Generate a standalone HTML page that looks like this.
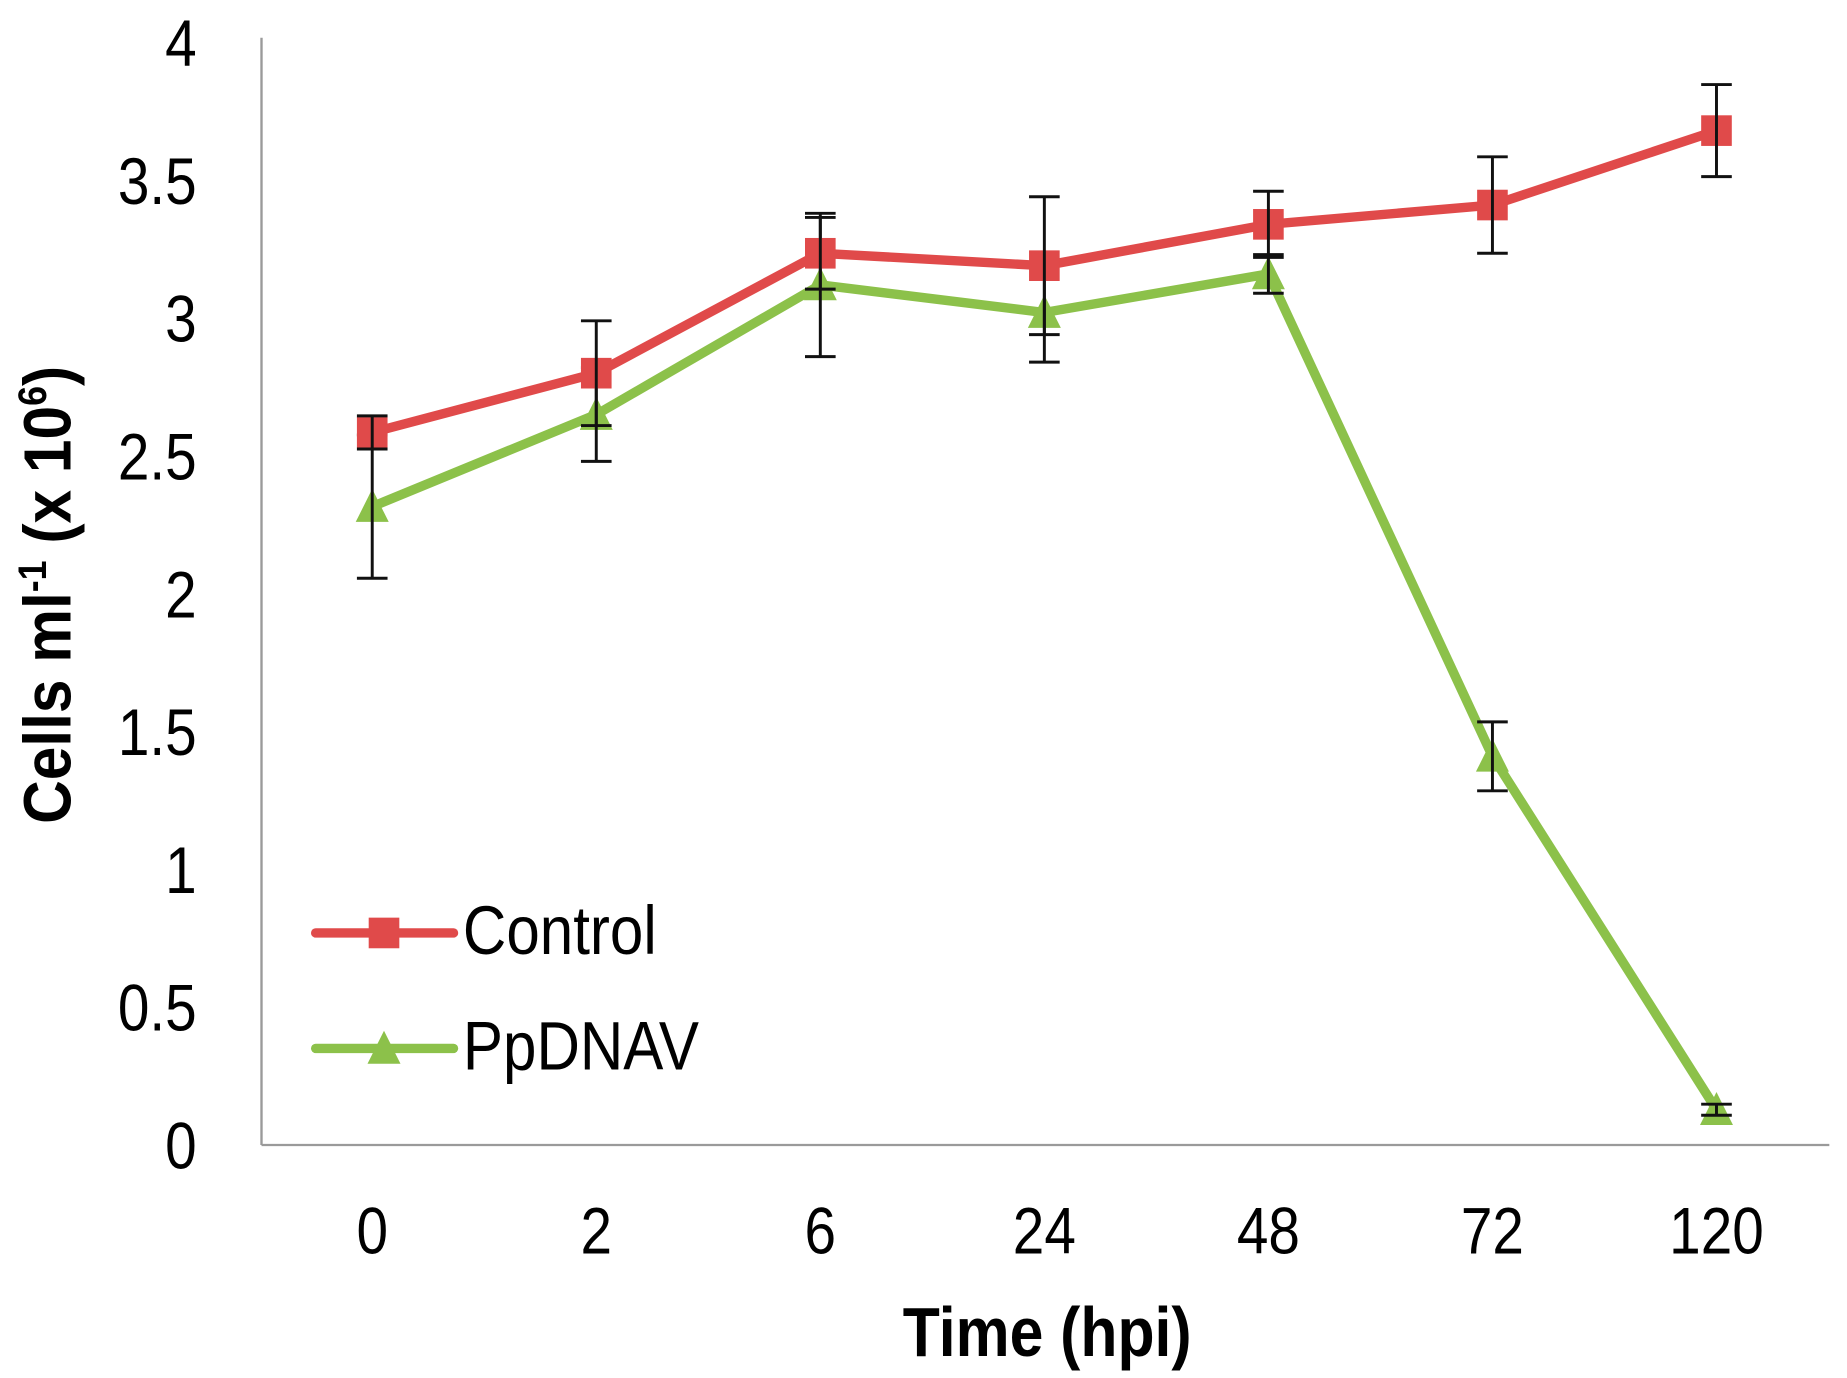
<!DOCTYPE html>
<html><head><meta charset="utf-8"><style>
html,body{margin:0;padding:0;background:#fff;}
svg{display:block;font-family:"Liberation Sans",Arial,sans-serif;}
</style></head><body>
<svg id="chart" width="1847" height="1378" viewBox="0 0 1568 1169.8" preserveAspectRatio="none" xmlns="http://www.w3.org/2000/svg">
<g id="axes"></g>
<g id="series"></g>
<text transform="translate(60,505) rotate(-90) scale(0.95,1.05)" text-anchor="middle" font-size="54" font-weight="bold" fill="#000">Cells ml<tspan font-size="32" dy="-20">-1</tspan><tspan dy="20"> (x 10</tspan><tspan font-size="32" dy="-20">6</tspan><tspan dy="20">)</tspan></text>
<text transform="translate(889,1151) scale(0.92,1.05)" text-anchor="middle" font-size="56" font-weight="bold" fill="#000">Time (hpi)</text>
<g>
  <g>
    <line x1="268" y1="792" x2="385" y2="792" stroke="#e04a4a" stroke-width="8" stroke-linecap="round"/>
    <rect x="313" y="779" width="26" height="26" fill="#e04a4a"/>
    <text transform="translate(393,810) scale(0.88,1)" font-size="58" fill="#000">Control</text>
  </g>
  <g>
    <line x1="268" y1="890" x2="385" y2="890" stroke="#8cc14a" stroke-width="8" stroke-linecap="round"/>
    <polygon points="326,875 340,903 312,903" fill="#8cc14a"/>
    <text transform="translate(393,908) scale(0.88,1)" font-size="58" fill="#000">PpDNAV</text>
  </g>
</g>
</svg>
<script>
const categories = ["0","2","6","24","48","72","120"];
const yTicks = [0,0.5,1,1.5,2,2.5,3,3.5,4];
const yTickLabels = ["0","0.5","1","1.5","2","2.5","3","3.5","4"];
const controlValues = [2.585,2.80,3.235,3.19,3.34,3.41,3.68];
const controlErrors = [0.06,0.19,0.13,0.25,0.12,0.175,0.167];
const ppdnavValues = [2.316,2.65,3.12,3.02,3.16,1.41,0.128];
const ppdnavErrors = [0.26,0.17,0.26,0.18,0.07,0.125,0.02];

const NS="http://www.w3.org/2000/svg";
const x0=222,x1=1553,yBase=972,yTop=32;
function xPos(i){return 316+i*190.2;}
function yPos(v){return yBase-v*234;}
function mk(tag,attrs,parent){const e=document.createElementNS(NS,tag);for(const k in attrs)e.setAttribute(k,attrs[k]);parent.appendChild(e);return e;}
const axes=document.getElementById('axes');
let l=mk('line',{x1:x0,y1:yTop,x2:x0,y2:yBase,stroke:'#9a9a9a','stroke-width':2},axes);


l=mk('line',{x1:x0,y1:yBase,x2:x1,y2:yBase,stroke:'#9a9a9a','stroke-width':2},axes);


yTicks.forEach((v,i)=>{
  const t=mk('text',{transform:`translate(167,${yPos(v)+20}) scale(0.86,1)`,'text-anchor':'end','font-size':56,fill:'#000'},axes);
  t.textContent=yTickLabels[i];
  
  
});
categories.forEach((c,i)=>{
  const t=mk('text',{transform:`translate(${xPos(i)},1064) scale(0.86,1)`,'text-anchor':'middle','font-size':56,fill:'#000'},axes);
  t.textContent=c;
  
  
});
const ser=document.getElementById('series');
function draw(vals,errs,color,name,marker){
  const g=mk('g',{},ser);
  
  
  const pts=vals.map((v,i)=>xPos(i)+','+yPos(v)).join(' ');
  const pl=mk('polyline',{points:pts,fill:'none',stroke:color,'stroke-width':8,'stroke-linejoin':'round'},g);
  
  
  vals.forEach((v,i)=>{
    const x=xPos(i),y=yPos(v);
    let m;
    if(marker==='square') m=mk('rect',{x:x-13,y:y-13,width:26,height:26,fill:color},g);
    else m=mk('polygon',{points:`${x},${y-15} ${x+14},${y+13} ${x-14},${y+13}`,fill:color},g);
    
    
    const e=errs[i],yt=yPos(v+e),yb=yPos(v-e);
    const eb=mk('path',{d:`M${x},${yt}V${yb}M${x-13},${yt}H${x+13}M${x-13},${yb}H${x+13}`,stroke:'#111','stroke-width':2.5,fill:'none'},g);
    
    
  });
}
draw(ppdnavValues,ppdnavErrors,'#8cc14a','ppdnav','triangle');
draw(controlValues,controlErrors,'#e04a4a','control','square');
</script>
</body></html>
